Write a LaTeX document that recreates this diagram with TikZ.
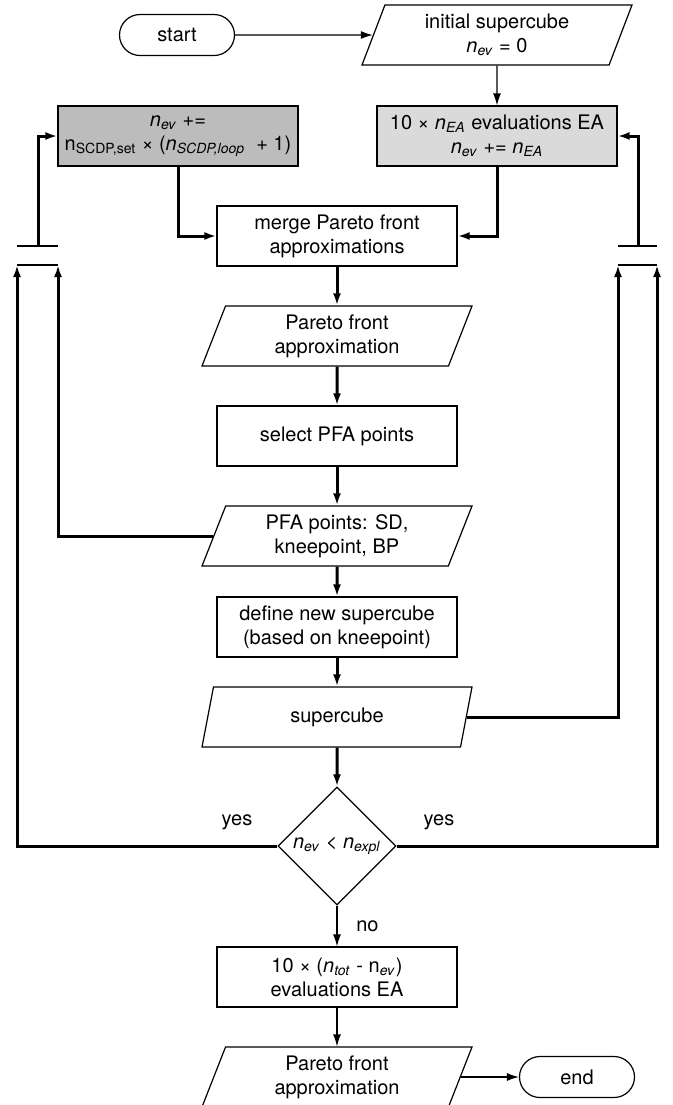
\documentclass[tikz,border=0pt]{standalone}
\usepackage{fontspec}
\setmainfont{TeX Gyre Heros}
\usetikzlibrary{shapes.geometric,shapes.misc,arrows.meta}
\definecolor{graydark}{RGB}{188,188,188}
\definecolor{graylight}{RGB}{218,218,218}
\newcommand{\nsub}[1]{\textit{n}\textsubscript{\textit{#1}}}

\begin{document}
\begin{tikzpicture}[x=0.5pt,y=-0.5pt,
	every node/.style={black,font=\fontsize{10}{12}\selectfont,align=center},
	proc/.style={draw,line width=0.6pt,minimum width=120pt,minimum height=30pt,inner sep=1pt},
	io/.style={draw,line width=0.6pt,trapezium,trapezium left angle=63.4,trapezium right angle=116.6,
		trapezium stretches body,minimum width=135pt,minimum height=30pt,inner sep=1pt},
	term/.style={draw,line width=0.6pt,rounded rectangle,minimum width=59.5pt,minimum height=20.5pt,inner sep=1pt},
	decide/.style={draw,line width=0.6pt,diamond,aspect=1,minimum width=59pt,minimum height=59pt,inner sep=0pt},
	heavy/.style={line width=1.5pt},
	tip/.style={-{Latex[length=6pt,width=4pt]}}]
	\useasboundingbox (0,0) rectangle (673,1105);

	\node[term] (start) at (177,35) {start};
	\node[io] (init) at (497,35) {initial supercube\\\nsub{ev} = 0};
	\node[proc,fill=graydark] (nupd) at (178,136) {\nsub{ev} +=\\n\textsubscript{SCDP,set} × (\nsub{SCDP,loop}\ \ + 1)};
	\node[proc,fill=graylight] (evalA) at (497,136) {10 × \nsub{EA} evaluations EA\\\nsub{ev} += \nsub{EA}};
	\node[proc] (merge) at (337,236) {merge Pareto front\\approximations};
	\node[io] (pfa) at (337,336) {Pareto front\\approximation};
	\node[proc] (sel) at (337,436) {select PFA points};
	\node[io] (pts) at (337,536) {PFA points: SD,\\kneepoint, BP};
	\node[proc] (def) at (337,627) {define new supercube\\(based on kneepoint)};
	\node[io] (sc) at (337,717) {supercube};
	\node[decide] (dec) at (337,846) {\nsub{ev} < \nsub{expl}};
	\node[proc] (fin) at (337,977) {10 × (\nsub{tot} - n\textsubscript{\textit{ev}})\\evaluations EA};
	\node[io] (pfa2) at (337,1077) {Pareto front\\approximation};
	\node[term] (end) at (577,1077) {end};

	\node (yesL) at (237,822) {yes};
	\node (yesR) at (439,822) {yes};

	% merge bars left and right
	\coordinate (ltop) at (38,246);
	\coordinate (lin1) at (17,265);
	\coordinate (lin2) at (58,265);
	\coordinate (rtop) at (638,246);
	\coordinate (rin1) at (618,265);
	\coordinate (rin2) at (657,265);
	\draw[line width=0.6pt] (17,246) -- (58,246) (lin1) -- (lin2);
	\draw[line width=0.6pt] (618,246) -- (657,246) (rin1) -- (rin2);

	\begin{scope}[tip,line width=0.6pt]
		\draw (start) -- (init);
		\draw (init) -- (evalA);
		\draw (dec) -- node[right=6pt]{no} (fin);
		\draw (fin) -- (pfa2);
		\draw (pfa2.east) -- (end);
	\end{scope}

	\begin{scope}[tip,heavy]
		\draw (nupd.south) |- (merge.west);
		\draw (evalA.south) |- (merge.east);
		\draw (merge) -- (pfa);
		\draw (pfa) -- (sel);
		\draw (sel) -- (pts);
		\draw (pts) -- (def);
		\draw (def) -- (sc);
		\draw (sc) -- (dec);
		\draw (pts.west) -| (lin2);
		\draw (dec.west) -| (lin1);
		\draw (sc.east) -| (rin1);
		\draw (dec.east) -| (rin2);
		\draw (ltop) |- (nupd.west);
		\draw (rtop) |- (evalA.east);
	\end{scope}
\end{tikzpicture}
\end{document}
